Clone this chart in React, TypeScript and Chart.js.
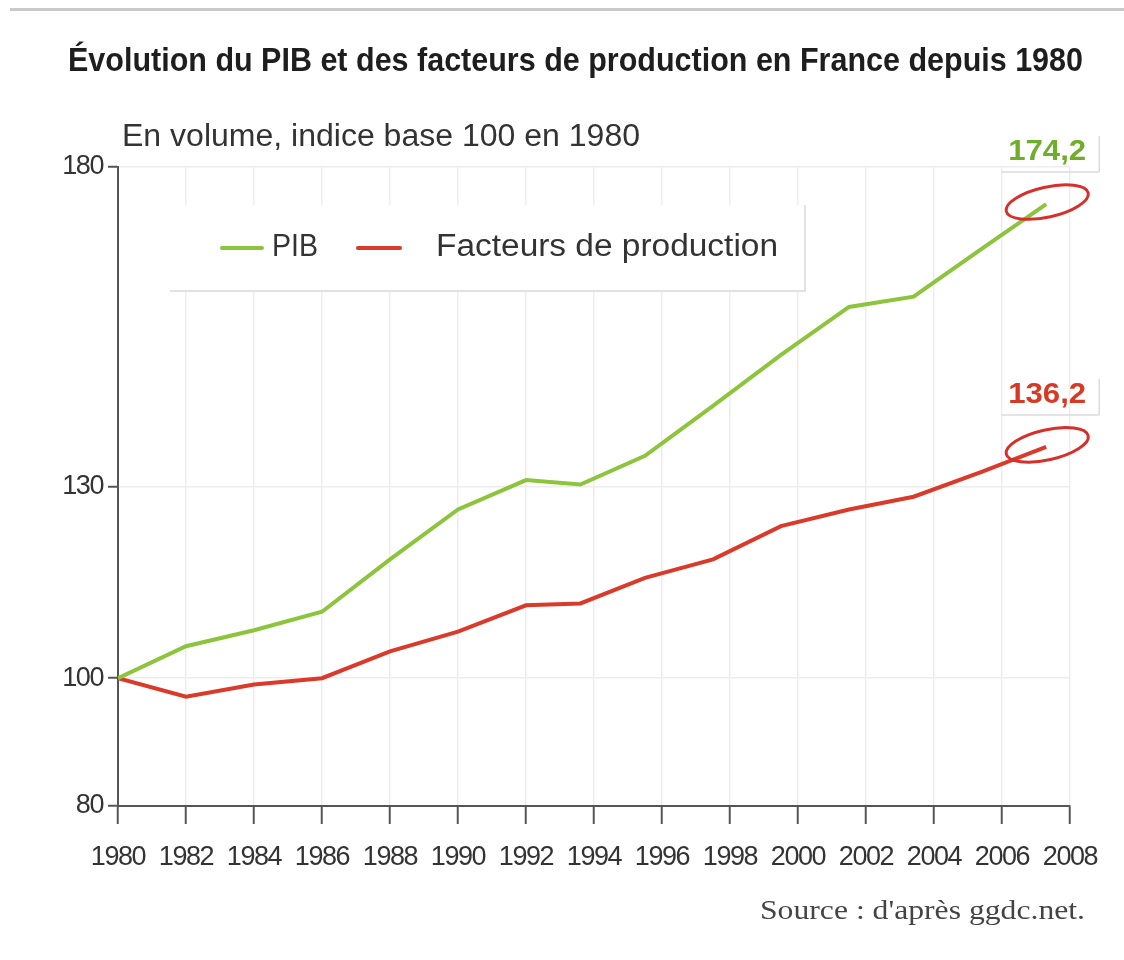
import React, { useEffect, useRef } from "react";
import { Chart, registerables } from "chart.js";

Chart.register(...registerables);

// ---- Data ----
const TITLE = "Évolution du PIB et des facteurs de production en France depuis 1980";
const SUBTITLE = "En volume, indice base 100 en 1980";
const SOURCE = "Source : d'après ggdc.net.";

const years = [1980, 1982, 1984, 1986, 1988, 1990, 1992, 1993.6, 1995.5, 1997.5, 1999.5, 2001.5, 2003.4, 2005.4, 2007.3];
const pib = [100, 105.0, 107.5, 110.4, 118.6, 126.4, 131.0, 130.3, 134.8, 142.6, 150.6, 158.1, 159.7, 167.2, 174.2];
const facteurs = [100, 97.1, 99.0, 100.0, 104.2, 107.3, 111.4, 111.7, 115.7, 118.6, 123.8, 126.4, 128.4, 132.3, 136.2];

const seriesLabels = ["PIB", "Facteurs de production"];
const endLabels = ["174,2", "136,2"];

const xTicks = [1980, 1982, 1984, 1986, 1988, 1990, 1992, 1994, 1996, 1998, 2000, 2002, 2004, 2006, 2008];
const yTicks = [80, 100, 130, 180];

const GREEN = "#8cc43c";
const RED = "#d93a2a";
const GREEN_TXT = "#6fae2a";
const RED_TXT = "#d63a26";
const TEXT = "#333333";
const NARROW = "'Liberation Sans Narrow', 'Liberation Sans', 'DejaVu Sans Condensed', sans-serif";

function fitText(ctx: CanvasRenderingContext2D, text: string, left: number, midY: number, width: number, font: string, color: string) {
  ctx.save();
  (ctx as any).letterSpacing = "0px";
  ctx.font = font;
  const m = ctx.measureText(text).width || 1;
  ctx.translate(left, midY);
  ctx.scale(width / m, 1);
  ctx.fillStyle = color;
  ctx.textAlign = "left";
  ctx.textBaseline = "middle";
  ctx.fillText(text, 0, 0);
  ctx.restore();
}

const decorPlugin = {
  id: "decor",
  beforeDraw(chart: any) {
    const ctx = chart.ctx as CanvasRenderingContext2D;
    ctx.save();
    ctx.fillStyle = "#ffffff";
    ctx.fillRect(0, 0, chart.width, chart.height);
    ctx.fillStyle = "#c9c9c9";
    ctx.fillRect(10, 8, chart.width - 10, 3);
    ctx.restore();
    fitText(ctx, TITLE, 68, 62, 1015, `bold 33px ${NARROW}`, "#1e1e1e");
    fitText(ctx, SUBTITLE, 122, 137, 518, `31px ${NARROW}`, TEXT);
    fitText(ctx, SOURCE, 760, 912, 325, `27px 'Liberation Serif', serif`, "#444444");
    // condensed look for the axis tick labels drawn by Chart.js
    (ctx as any).letterSpacing = "-1.4px";
  },
  beforeDatasetsDraw(chart: any) {
    const ctx = chart.ctx as CanvasRenderingContext2D;
    // legend box covering the grid
    ctx.save();
    ctx.fillStyle = "#ffffff";
    ctx.fillRect(170, 205, 635, 86);
    ctx.strokeStyle = "#e2e2e2";
    ctx.lineWidth = 2;
    ctx.beginPath();
    ctx.moveTo(170, 291);
    ctx.lineTo(805, 291);
    ctx.lineTo(805, 205);
    ctx.stroke();
    ctx.lineCap = "round";
    ctx.lineWidth = 4;
    ctx.strokeStyle = GREEN;
    ctx.beginPath();
    ctx.moveTo(222, 248);
    ctx.lineTo(262, 248);
    ctx.stroke();
    ctx.strokeStyle = RED;
    ctx.beginPath();
    ctx.moveTo(358, 248);
    ctx.lineTo(400, 248);
    ctx.stroke();
    ctx.restore();
    fitText(ctx, seriesLabels[0], 272, 247, 46, `31px ${NARROW}`, TEXT);
    fitText(ctx, seriesLabels[1], 436, 247, 342, `31px ${NARROW}`, TEXT);
  },
  afterDatasetsDraw(chart: any) {
    const ctx = chart.ctx as CanvasRenderingContext2D;
    const cols = [GREEN_TXT, RED_TXT];
    chart.data.datasets.forEach((ds: any, i: number) => {
      const meta = chart.getDatasetMeta(i);
      const pt = meta.data[meta.data.length - 1];
      const px = pt.x, py = pt.y;
      ctx.save();
      // faint label frame
      ctx.strokeStyle = "#dcdcdc";
      ctx.lineWidth = 1.5;
      ctx.beginPath();
      ctx.moveTo(px - 45, py - 32);
      ctx.lineTo(px + 53, py - 32);
      ctx.moveTo(px + 53, py - 32);
      ctx.lineTo(px + 53, py - 68);
      ctx.stroke();
      // red ellipse around end point
      ctx.strokeStyle = "#d6302c";
      ctx.lineWidth = 3;
      ctx.beginPath();
      ctx.ellipse(px + 1, py - 2, 42, 15, -0.22, 0, Math.PI * 2);
      ctx.stroke();
      ctx.restore();
      fitText(ctx, endLabels[i], px - 38, py - 52, 78, `bold 30px ${NARROW}`, cols[i]);
    });
  },
  afterDraw(chart: any) {
    (chart.ctx as any).letterSpacing = "0px";
  },
};

export default function App() {
  const ref = useRef<HTMLCanvasElement | null>(null);
  useEffect(() => {
    if (!ref.current) return;
    const tickFont = { family: NARROW, size: 27 };
    const chart = new Chart(ref.current, {
      type: "line",
      data: {
        datasets: [
          {
            label: seriesLabels[0],
            data: years.map((x, i) => ({ x, y: pib[i] })),
            borderColor: GREEN,
            borderWidth: 4,
            pointRadius: 0,
            tension: 0,
          },
          {
            label: seriesLabels[1],
            data: years.map((x, i) => ({ x, y: facteurs[i] })),
            borderColor: RED,
            borderWidth: 4,
            pointRadius: 0,
            tension: 0,
          },
        ],
      },
      options: {
        animation: false,
        responsive: false,
        layout: { padding: { top: 167, right: 54, left: 0, bottom: 0 } },
        plugins: { legend: { display: false }, title: { display: false }, tooltip: { enabled: false } },
        scales: {
          x: {
            type: "linear",
            min: 1980,
            max: 2008,
            afterBuildTicks: (s: any) => {
              s.ticks = xTicks.map((v) => ({ value: v }));
            },
            afterFit: (s: any) => {
              s.height = 154;
            },
            ticks: {
              callback: (v: any) => String(v),
              font: tickFont,
              color: TEXT,
              padding: 17,
              maxRotation: 0,
              autoSkip: false,
            },
            grid: { color: "#ededed", lineWidth: 1.5, tickColor: "#555555", tickWidth: 2, tickLength: 18 },
            border: { color: "#555555", width: 2 },
          },
          y: {
            type: "linear",
            min: 80,
            max: 180,
            afterBuildTicks: (s: any) => {
              s.ticks = yTicks.map((v) => ({ value: v }));
            },
            afterFit: (s: any) => {
              s.width = 118;
            },
            ticks: { callback: (v: any) => String(v), font: tickFont, color: TEXT, padding: 5 },
            grid: { color: "#ededed", lineWidth: 1.5, tickColor: "#555555", tickWidth: 2, tickLength: 10 },
            border: { color: "#555555", width: 2 },
          },
        },
      },
      plugins: [decorPlugin],
    });
    return () => chart.destroy();
  }, []);
  return (
    <canvas
      ref={ref}
      width={1124}
      height={960}
      style={{ position: "absolute", left: 0, top: 0, display: "block" }}
    />
  );
}
